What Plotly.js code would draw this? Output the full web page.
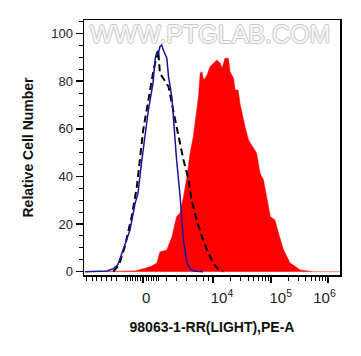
<!DOCTYPE html>
<html>
<head>
<meta charset="utf-8">
<script src="https://cdn.plot.ly/plotly-3.0.1.min.js"></script>
<style>html,body{margin:0;padding:0;background:#fff;}#chart{width:361px;height:356px;}</style>
</head>
<body>
<div id="chart"></div>
<script>
// x values are in display (transformed) channel units: 4 = 10^4, 5 = 10^5, 6 = 10^6
const redX = [1.75,2.43,2.49,2.64,2.84,2.93,3.02,3.07,3.19,3.28,3.36,3.42,3.48,3.54,3.59,3.65,3.71,3.74,3.77,3.80,3.83,3.89,3.94,4.00,4.06,4.12,4.15,4.20,4.26,4.29,4.35,4.38,4.43,4.46,4.52,4.55,4.61,4.70,4.75,4.81,4.87,4.99,5.07,5.13,5.22,5.33,5.51,5.74,6.20];
const redY = [0,0,0,0.3,1.6,2.4,3.7,8.3,9.1,14.7,23.1,24.6,31.5,39.9,49,56.7,67.9,73.5,83.4,84,80.5,82.6,86.1,87.5,88.9,87.5,85.4,89.6,89.6,84,81.2,76.3,76.3,70.8,63.7,60.9,55.3,51.8,49.8,41.4,38.5,23.1,21.7,16.2,9.1,3.7,0.7,0,0];

const isoX = [2.26,2.36,2.46,2.58,2.67,2.78,2.87,2.96,3.02,3.04,3.07,3.13,3.22,3.30,3.39,3.48,3.57,3.62,3.71,3.80,3.89,4.00,4.08,4.17];
const isoY = [0,2.8,10.5,23.1,35.7,59.5,72.1,84.7,91,93.1,83.4,81.3,77.7,67.9,56.7,46.9,38.5,30,21.7,14.7,9.1,3.5,1.2,0];

const blankX = [1.77,2.03,2.15,2.26,2.34,2.43,2.55,2.64,2.69,2.75,2.87,2.95,2.99,3.02,3.04,3.07,3.10,3.13,3.19,3.22,3.28,3.31,3.36,3.42,3.45,3.48,3.54,3.60,3.65,3.82];
const blankY = [0,0,0.3,1.2,3,9.1,17.5,28.8,33,45.6,67.9,79.2,89.7,92.4,91,94.5,95.2,93.1,89.7,81.9,73,63,47,32,22,13,3.6,1,0.3,0];

const majorTicks = [2.78,4,5,6];
const minorTicks = [1.80,1.89,1.97,2.06,2.15,2.23,2.32,2.465,2.508,2.552,2.595,2.639,2.682,2.726,2.830,2.873,2.917,2.960,3.003,3.047,3.19,3.36,3.54,3.71,3.83,3.91,
  4.301,4.477,4.602,4.699,4.778,4.845,4.903,4.954,5.301,5.477,5.602,5.699,5.778,5.845,5.903,5.954];
const xLabelPos = [2.83,4.15,5.17,5.93];
const xLabels = ['0','10<sup>4</sup>','10<sup>5</sup>','10<sup>6</sup>'];
const yTicks = [0,20,40,60,80,100];

const xr = [1.751,6.2];
const traces = [
  {x: redX, y: redY, type:'scatter', mode:'lines', fill:'tozeroy', fillcolor:'#ff0000', line:{color:'#ff0000', width:0.5}, hoverinfo:'skip'},
  {x: isoX, y: isoY, type:'scatter', mode:'lines', line:{color:'#000000', width:2, dash:'7px,4px'}, hoverinfo:'skip'},
  {x: blankX, y: blankY, type:'scatter', mode:'lines', line:{color:'#16169c', width:1.5}, hoverinfo:'skip'},
  {x: [], y: [], xaxis:'x2', yaxis:'y', type:'scatter', mode:'lines', hoverinfo:'skip'}
];
const layout = {
  width:361, height:356,
  margin:{l:84, r:21, t:20, b:81},
  paper_bgcolor:'#fff', plot_bgcolor:'#fff',
  showlegend:false,
  font:{family:'Arial, Liberation Sans, sans-serif', size:13, color:'#222'},
  xaxis:{
    range: xr, showgrid:false, zeroline:false,
    showline:true, linecolor:'#000', linewidth:1.5, mirror:true,
    tickmode:'array', tickvals: majorTicks, showticklabels:false,
    ticks:'outside', ticklen:6, tickwidth:2, tickcolor:'#000',
    minor:{tickmode:'array', tickvals: minorTicks, ticks:'outside', ticklen:4, tickwidth:1, tickcolor:'#000'},
    title:{text:'98063-1-RR(LIGHT),PE-A', font:{size:14, color:'#111', weight:'bold'}, standoff:40}
  },
  xaxis2:{
    overlaying:'x', anchor:'y', side:'bottom', range: xr,
    showgrid:false, zeroline:false, showline:false,
    tickmode:'array', tickvals: xLabelPos, ticktext: xLabels, ticks:'',
    ticklabelstandoff: 12,
    tickfont:{size:15, color:'#222'}
  },
  yaxis:{
    range:[-1.4,105.7], showgrid:false, zeroline:false,
    showline:true, linecolor:'#000', linewidth:1.5, mirror:true,
    tickmode:'array', tickvals: yTicks,
    ticks:'outside', ticklen:7, tickwidth:1.5, tickcolor:'#000',
    minor:{dtick:5, ticks:'outside', ticklen:4, tickwidth:1, tickcolor:'#000'},
    tickfont:{size:13, color:'#222'},
    title:{text:'Relative Cell Number', font:{size:14, color:'#111', weight:'bold'}, standoff:14}
  },
  annotations:[{
    text:'WWW.PTGLAB.COM', xref:'paper', yref:'paper', x:0.492, y:0.945,
    xanchor:'center', yanchor:'middle', showarrow:false,
    font:{size:25, color:'#f6f6f6', family:'Arial, Liberation Sans, sans-serif', shadow:'-1px 0 #c8c8c8, 1px 0 #c8c8c8, 0 1px #c8c8c8, 0 -1px #c8c8c8'}
  }]
};
Plotly.newPlot('chart', traces, layout, {displayModeBar:false, staticPlot:true});
</script>
</body>
</html>
